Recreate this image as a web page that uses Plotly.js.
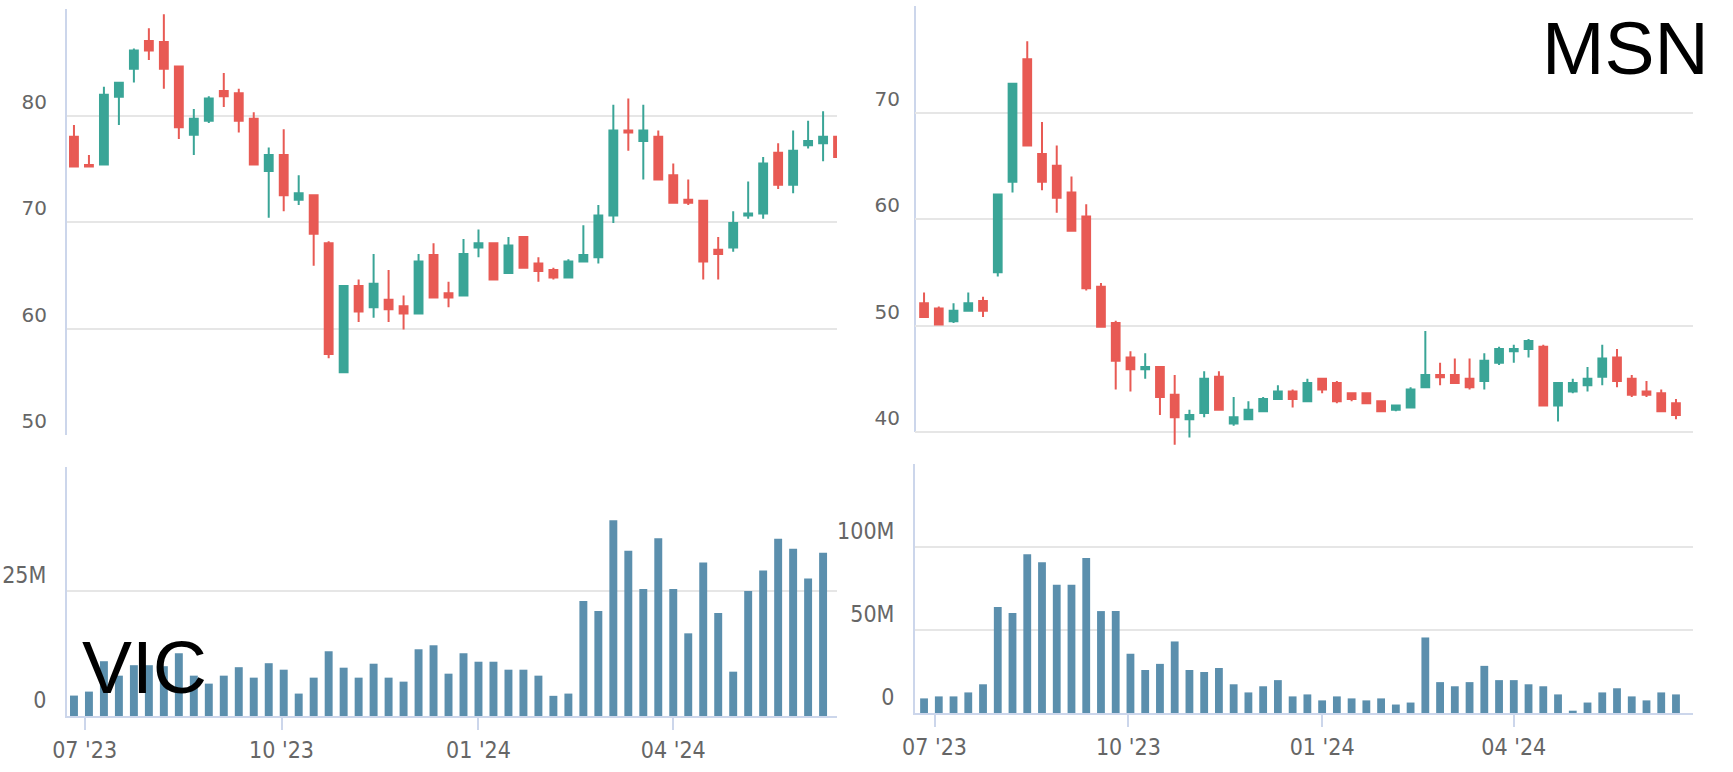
<!DOCTYPE html>
<html>
<head>
<meta charset="utf-8">
<script src="https://cdn.plot.ly/plotly-3.0.1.min.js"></script>
<style>
  html, body { margin: 0; padding: 0; background: #fff; }
  #chart { width: 1733px; height: 772px; }
</style>
</head>
<body>
<div id="chart"></div>
<script>
// weekly bars, Monday of each week
const weeks = [
  '2023-06-26', '2023-07-03', '2023-07-10', '2023-07-17', '2023-07-24', '2023-07-31',
  '2023-08-07', '2023-08-14', '2023-08-21', '2023-08-28', '2023-09-04', '2023-09-11',
  '2023-09-18', '2023-09-25', '2023-10-02', '2023-10-09', '2023-10-16', '2023-10-23',
  '2023-10-30', '2023-11-06', '2023-11-13', '2023-11-20', '2023-11-27', '2023-12-04',
  '2023-12-11', '2023-12-18', '2023-12-25', '2024-01-01', '2024-01-08', '2024-01-15',
  '2024-01-22', '2024-01-29', '2024-02-05', '2024-02-12', '2024-02-19', '2024-02-26',
  '2024-03-04', '2024-03-11', '2024-03-18', '2024-03-25', '2024-04-01', '2024-04-08',
  '2024-04-15', '2024-04-22', '2024-04-29', '2024-05-06', '2024-05-13', '2024-05-20',
  '2024-05-27', '2024-06-03', '2024-06-10', '2024-06-17'
];

// VIC
const vicOpen = [78.0, 75.35, 75.4, 81.76, 84.4, 87.0, 86.9, 84.6, 78.2, 79.5, 82.3, 82.1, 79.7,
  74.8, 76.3, 72.1, 72.5, 68.0, 55.9, 64.0, 62.0, 62.7, 62.1, 61.4, 66.9, 63.3,
  63.1, 67.6, 68.0, 65.2, 68.6, 66.1, 65.5, 64.8, 66.3, 66.7, 70.6, 78.6, 77.6,
  78.0, 74.4, 72.1, 72.0, 67.4, 67.6, 70.6, 70.8, 76.5, 73.5, 77.2, 77.4, 78.0];
const vicHigh = [79.1, 76.3, 82.7, 83.1, 86.3, 88.2, 89.5, 84.6, 80.6, 81.8, 84.0, 82.5, 80.3,
  77.0, 78.7, 74.4, 72.5, 68.2, 64.0, 64.6, 67.0, 65.5, 63.1, 67.0, 68.0, 64.4,
  68.4, 69.3, 68.0, 68.6, 68.6, 66.7, 65.7, 66.5, 69.7, 71.6, 81.0, 81.6, 81.0,
  78.6, 75.5, 74.0, 72.0, 68.6, 71.0, 73.8, 76.1, 77.4, 78.6, 79.5, 80.4, 78.0];
const vicLow = [75.2, 75.2, 75.4, 79.1, 83.1, 85.2, 82.5, 77.8, 76.3, 79.3, 80.8, 78.4, 75.4,
  70.4, 71.0, 71.6, 65.9, 57.2, 55.9, 60.6, 61.0, 60.6, 59.9, 61.4, 62.9, 62.0,
  63.1, 66.7, 64.6, 65.2, 65.7, 64.4, 64.6, 64.8, 66.3, 66.1, 69.9, 76.7, 74.0,
  74.0, 71.8, 71.6, 64.6, 64.6, 67.2, 70.3, 70.3, 73.1, 72.7, 76.9, 75.7, 76.1];
const vicClose = [75.2, 75.2, 81.95, 83.08, 86.1, 86.1, 84.4, 78.9, 79.7, 81.6, 81.8, 79.5, 75.4,
  76.3, 72.5, 72.7, 68.9, 57.6, 64.0, 61.6, 64.2, 61.8, 61.4, 66.3, 62.9, 62.9,
  67.0, 68.0, 64.6, 67.8, 65.7, 65.4, 64.8, 66.3, 66.9, 70.6, 78.6, 78.4, 78.6,
  74.0, 71.8, 71.8, 66.3, 67.0, 69.9, 70.8, 75.5, 73.5, 76.7, 77.6, 78.0, 76.1];
// volume, millions of shares
const vicVolume = [4.1, 4.9, 11.0, 8.1, 10.2, 10.2, 10.0, 12.6, 8.1, 6.5, 8.1, 9.8, 7.7,
  10.6, 9.3, 4.5, 7.7, 13.0, 9.7, 7.7, 10.5, 7.7, 6.9, 13.4, 14.2, 8.5,
  12.6, 10.9, 10.9, 9.3, 9.3, 8.1, 4.05, 4.5, 23.1, 21.1, 39.3, 33.2, 25.5,
  35.7, 25.5, 16.6, 30.8, 20.7, 8.9, 25.1, 29.2, 35.6, 33.6, 27.6, 32.8, null];

// MSN
const msnOpen = [52.1, 51.6, 50.4, 51.4, 52.3, 55.0, 63.5, 75.0, 66.1, 65.0, 62.5, 60.25, 53.65,
  50.25, 47.0, 45.9, 46.1, 43.5, 41.2, 41.8, 45.2, 40.8, 41.2, 41.95, 43.1, 43.8,
  42.9, 45.0, 44.6, 43.65, 43.65, 42.9, 42.1, 42.3, 44.2, 45.35, 45.35, 45.0, 44.8,
  46.5, 47.6, 47.8, 48.0, 42.5, 43.8, 44.4, 45.2, 47.0, 45.0, 43.8, 43.65, 42.7];
const msnHigh = [53.1, 51.8, 52.1, 53.1, 52.7, 62.3, 72.7, 76.7, 69.1, 66.9, 64.0, 61.4, 54.0,
  50.45, 47.6, 47.4, 46.1, 45.35, 42.1, 45.7, 45.7, 43.3, 42.9, 43.3, 44.4, 44.0,
  45.0, 45.0, 44.8, 43.65, 43.65, 42.9, 42.5, 44.2, 49.5, 46.5, 46.9, 46.9, 47.4,
  48.0, 48.2, 48.75, 48.2, 44.6, 45.0, 46.1, 48.2, 47.8, 45.35, 44.8, 44.0, 43.1];
const msnLow = [50.8, 50.1, 50.25, 51.4, 50.8, 54.6, 62.5, 66.9, 62.7, 60.6, 58.9, 53.3, 49.9,
  44.0, 43.8, 45.0, 41.6, 38.8, 39.5, 41.4, 42.1, 40.6, 41.2, 41.95, 43.1, 42.3,
  42.9, 43.65, 42.7, 42.9, 42.7, 41.95, 41.95, 42.3, 44.2, 44.4, 44.6, 44.0, 44.0,
  46.3, 46.5, 47.0, 42.5, 41.0, 43.65, 43.8, 44.4, 44.2, 43.3, 43.3, 41.95, 41.2];
const msnClose = [50.8, 50.1, 51.4, 52.1, 51.4, 62.3, 72.7, 66.9, 63.5, 62.0, 58.9, 53.5, 49.9,
  46.7, 45.9, 46.1, 43.3, 41.4, 41.6, 45.0, 42.1, 41.4, 42.1, 43.1, 43.8, 43.1,
  44.6, 44.0, 42.9, 43.1, 42.7, 41.95, 42.5, 44.0, 45.35, 45.15, 44.6, 44.2, 46.7,
  47.8, 47.8, 48.55, 42.5, 44.6, 44.6, 45.0, 46.9, 44.8, 43.5, 43.5, 41.95, 41.6];
const msnVolume = [8.8, 10.0, 10.0, 12.4, 17.3, 63.9, 60.2, 95.7, 90.8, 77.3, 77.3, 93.3, 61.4,
  61.4, 35.7, 25.9, 29.6, 43.1, 25.9, 24.7, 27.1, 17.3, 12.4, 16.1, 19.8, 10.0,
  11.2, 7.6, 10.0, 8.8, 7.6, 8.8, 5.1, 6.3, 45.5, 18.6, 16.1, 18.6, 28.4,
  19.8, 19.8, 17.3, 16.1, 11.2, 1.4, 6.3, 12.4, 14.9, 10.0, 7.6, 12.4, 11.2];

// axis ticks
const vicPriceTicks = [50, 60, 70, 80, 90];
const vicPriceText = ['50', '60', '70', '80', ''];
const vicVolTicks = [0, 25, 50];
const vicVolText = ['0', '25M', ''];
const msnPriceTicks = [40, 50, 60, 70, 80];
const msnPriceText = ['40', '50', '60', '70', ''];
const msnVolTicks = [0, 50, 100, 150];
const msnVolText = ['0', '50M', '100M', ''];

const UP = '#3aa597';
const DOWN = '#e85a54';
const VOL = '#5b8fad';
const AXIS = '#ccd6eb';
const GRID = '#e6e6e6';

function candles(o, h, l, c, xa, ya) {
  return {
    type: 'candlestick',
    x: weeks, open: o, high: h, low: l, close: c,
    xaxis: xa, yaxis: ya,
    increasing: {line: {color: UP, width: 2}, fillcolor: UP},
    decreasing: {line: {color: DOWN, width: 2}, fillcolor: DOWN},
    hoverinfo: 'skip'
  };
}
function volume(v, xa, ya) {
  return {
    type: 'bar', x: weeks, y: v, xaxis: xa, yaxis: ya,
    marker: {color: VOL, line: {width: 0}},
    hoverinfo: 'skip'
  };
}

const data = [
  candles(vicOpen, vicHigh, vicLow, vicClose, 'x', 'y'),
  volume(vicVolume, 'x2', 'y2'),
  candles(msnOpen, msnHigh, msnLow, msnClose, 'x3', 'y3'),
  volume(msnVolume, 'x4', 'y4')
];

const priceFont = {family: 'DejaVu Sans, sans-serif', size: 20, color: '#666666'};
const narrowFont = {family: 'DejaVu Sans Condensed, Liberation Sans Narrow, Roboto Condensed, Liberation Sans, sans-serif', size: 23, color: '#666666'};

function priceX(domain, range) {
  return {
    domain: domain, type: 'date', range: range,
    rangeslider: {visible: false},
    showticklabels: false, showgrid: false, showline: false, zeroline: false, ticks: ''
  };
}
function volX(domain, range, ya) {
  return {
    domain: domain, type: 'date', range: range, anchor: ya,
    tick0: '2023-07-01', dtick: 'M3', tickformat: "%m '%y",
    showgrid: false, zeroline: false,
    showline: true, linecolor: AXIS, linewidth: 2,
    ticks: 'outside', ticklen: 12, tickwidth: 2, tickcolor: AXIS,
    tickfont: narrowFont
  };
}
function yAx(domain, range, vals, text, xa, font, line) {
  return {
    domain: domain, range: range, anchor: xa, fixedrange: true,
    tickvals: vals, ticktext: text, tickfont: font,
    ticklabelposition: 'outside top', ticklabelstandoff: 14,
    showgrid: true, gridcolor: GRID, gridwidth: 2, zeroline: false,
    showline: line, linecolor: AXIS, linewidth: 2, ticks: ''
  };
}

const leftX = [0.03866, 0.48298];
const rightX = [0.52799, 0.97692];
const leftRange = ['2023-06-22 18:00', '2024-06-16 12:00'];
const rightRange = ['2023-06-21 17:00', '2024-06-25 02:00'];

const layout = {
  width: 1733, height: 772,
  margin: {l: 0, r: 0, t: 0, b: 0},
  paper_bgcolor: '#ffffff', plot_bgcolor: '#ffffff',
  showlegend: false,
  boxgap: 0.3, boxgroupgap: 0.25,
  bargap: 0.47,
  xaxis: Object.assign(priceX(leftX, leftRange), {anchor: 'y'}),
  yaxis: yAx([0.43653, 0.98834], [50, 90], vicPriceTicks, vicPriceText, 'x', priceFont, true),
  xaxis2: volX(leftX, leftRange, 'y2'),
  yaxis2: yAx([0.07254, 0.39508], [0, 50], vicVolTicks, vicVolText, 'x2', narrowFont, true),
  xaxis3: Object.assign(priceX(rightX, rightRange), {anchor: 'y3'}),
  yaxis3: yAx([0.42098, 0.99223], [38.6, 80], msnPriceTicks, msnPriceText, 'x3', priceFont, false),
  xaxis4: volX(rightX, rightRange, 'y4'),
  yaxis4: yAx([0.07642, 0.39896], [0, 150], msnVolTicks, msnVolText, 'x4', narrowFont, true),
  shapes: [
    // price axis line of the right panel stops at the 40 grid line
    {type: 'line', xref: 'x3 domain', x0: 0, x1: 0, yref: 'y3', y0: 40, y1: 80,
     line: {color: AXIS, width: 2}, layer: 'below'}
  ],
  annotations: [
    {text: 'VIC', xref: 'paper', yref: 'paper', x: 0.0462, y: 1 - 667 / 772,
     xanchor: 'left', yanchor: 'middle', showarrow: false,
     font: {family: 'Liberation Sans, Arial, sans-serif', size: 75, color: '#000000'}},
    {text: 'MSN', xref: 'paper', yref: 'paper', x: 0.9873, y: 1 - 48 / 772,
     xanchor: 'right', yanchor: 'middle', showarrow: false,
     font: {family: 'Liberation Sans, Arial, sans-serif', size: 75, color: '#000000'}}
  ]
};

Plotly.newPlot('chart', data, layout, {displayModeBar: false, staticPlot: true});
</script>
</body>
</html>
